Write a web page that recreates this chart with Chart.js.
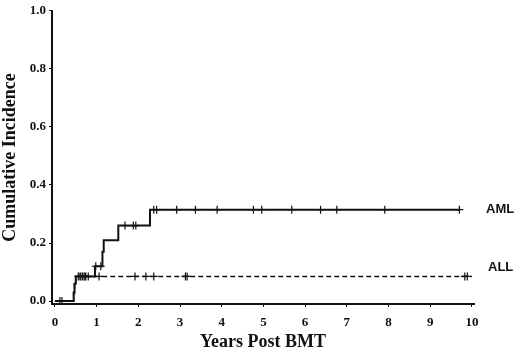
<!DOCTYPE html>
<html>
<head>
<meta charset="utf-8">
<script src="https://cdn.jsdelivr.net/npm/chart.js@4/dist/chart.umd.min.js"></script>
<style>
html,body{margin:0;padding:0;background:#fff;}
#wrap{width:520px;height:353px;position:relative;}
</style>
</head>
<body>
<div id="wrap"><canvas id="c" width="520" height="353"></canvas></div>
<script>
// ---- data ----
const xTicks = [0,1,2,3,4,5,6,7,8,9,10];
const yTicks = [0,0.2,0.4,0.6,0.8,1.0];

const amlTimes  = [0, 0.45, 0.47, 0.50, 0.96, 1.14, 1.17, 1.52, 2.28, 9.72];
const amlValues = [0, 0.03, 0.06, 0.085, 0.12, 0.17, 0.21, 0.26, 0.315, 0.315];
const allTimes  = [0, 0.45, 0.47, 0.50, 10.0];
const allValues = [0, 0.03, 0.06, 0.085, 0.085];

const amlCensor = [0.17, 0.60, 0.72, 0.80, 0.98, 1.10, 1.68, 1.88, 1.94, 2.37, 2.44, 2.92, 3.37, 3.89, 4.76, 4.96, 5.68, 6.37, 6.76, 7.91, 9.70];
const allCensor = [0.12, 0.56, 0.62, 0.66, 0.70, 0.74, 1.06, 1.92, 2.18, 2.37, 3.13, 3.17, 9.83, 9.89];

const seriesLabels = ['AML', 'ALL'];

// step-function lookup for placing censor marks on their curve
function stepAt(times, values, t){
  let v = values[0];
  for (let i=0;i<times.length;i++){ if (times[i] <= t) v = values[i]; }
  return v;
}
const toXY = (ts, vs) => ts.map((t,i)=>({x:t, y:vs[i]}));

const serif = '"Liberation Serif", "DejaVu Serif", serif';
const sans = '"Liberation Sans", "DejaVu Sans", sans-serif';

const endLabels = {
  id:'endLabels',
  afterDatasetsDraw(chart){
    const ctx = chart.ctx, y = chart.scales.y;
    ctx.save();
    ctx.fillStyle = '#111';
    ctx.font = 'bold 13px ' + sans;
    ctx.textBaseline = 'middle';
    ctx.textAlign = 'left';
    ctx.fillText(seriesLabels[0], 486, y.getPixelForValue(amlValues[amlValues.length-1]) + 0);
    ctx.fillText(seriesLabels[1], 488, y.getPixelForValue(allValues[allValues.length-1]) - 9);
    ctx.restore();
  }
};

new Chart(document.getElementById('c'), {
  type: 'line',
  data: {
    datasets: [
      { label: seriesLabels[0], data: toXY(amlTimes, amlValues), stepped: true,
        borderColor:'#111', borderWidth:2, pointRadius:0, fill:false },
      { label: seriesLabels[1], data: toXY(allTimes, allValues), stepped: true,
        borderColor:'#111', borderWidth:1.5, borderDash:[5,3], pointRadius:0, fill:false },
      { label: 'AML censored', data: amlCensor.map(t=>({x:t, y:stepAt(amlTimes, amlValues, t)})),
        showLine:false, pointStyle:'cross', pointRadius:4, borderColor:'#111', pointBorderWidth:1.2, backgroundColor:'#111' },
      { label: 'ALL censored', data: allCensor.map(t=>({x:t, y:stepAt(allTimes, allValues, t)})),
        showLine:false, pointStyle:'cross', pointRadius:4, borderColor:'#111', pointBorderWidth:1.2, backgroundColor:'#111' }
    ]
  },
  options: {
    responsive:false,
    animation:false,
    layout:{ padding:{ top:6, right:46, left:0, bottom:0 } },
    plugins:{ legend:{display:false}, tooltip:{enabled:false} },
    scales:{
      x:{
        type:'linear', min:-0.07, max:10.05,
        afterBuildTicks(s){ s.ticks = xTicks.map(v=>({value:v})); },
        afterFit(s){ s.height = 49; },
        grid:{ drawOnChartArea:false, tickLength:3, color:'#111', lineWidth:1 },
        border:{ display:true, color:'#111', width:2 },
        ticks:{ color:'#111', font:{ family:serif, size:13, weight:'bold' }, padding:8, maxRotation:0,
                callback:(v)=>String(v) },
        title:{ display:true, text:'Years Post BMT', color:'#111',
                font:{ family:serif, size:18, weight:'bold' }, padding:{top:2, bottom:0} }
      },
      y:{
        type:'linear', min:-0.01, max:1.0,
        afterBuildTicks(s){ s.ticks = yTicks.map(v=>({value:v})); },
        afterFit(s){ s.width = 52; },
        grid:{ drawOnChartArea:false, tickLength:3, color:'#111', lineWidth:1 },
        border:{ display:true, color:'#111', width:2 },
        ticks:{ color:'#111', font:{ family:serif, size:13, weight:'bold' }, padding:3,
                callback:(v)=>Number(v).toFixed(1) },
        title:{ display:true, text:'Cumulative Incidence', color:'#111',
                font:{ family:serif, size:18, weight:'bold' }, padding:{top:0, bottom:2} }
      }
    }
  },
  plugins:[endLabels]
});
</script>
</body>
</html>
